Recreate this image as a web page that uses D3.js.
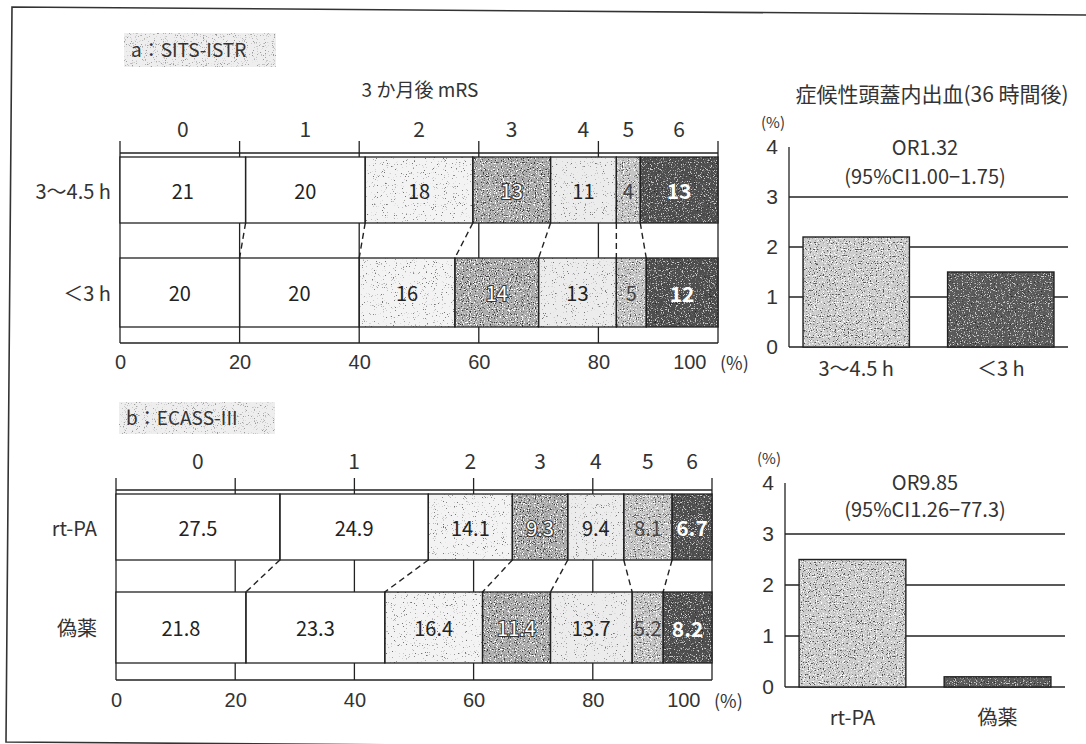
<!DOCTYPE html>
<html>
<head>
<meta charset="utf-8">
<script src="https://cdn.jsdelivr.net/npm/d3@7"></script>
<style>
  body { margin: 0; background: #fff; }
  svg { display: block; font-family: "Noto Sans CJK JP", "Noto Sans", sans-serif; }
</style>
</head>
<body>
<svg id="chart" width="1086" height="744"></svg>
<script>
// ---- data ----
const mrsLevels = ["0", "1", "2", "3", "4", "5", "6"];
const mrsTitle = "3 か月後 mRS";

const sitsGroups = ["3〜4.5 h", "＜3 h"];
const sitsLate = [21, 20, 18, 13, 11, 4, 13];
const sitsEarly = [20, 20, 16, 14, 13, 5, 12];

const ecassGroups = ["rt-PA", "偽薬"];
const ecassRtpa = [27.5, 24.9, 14.1, 9.3, 9.4, 8.1, 6.7];
const ecassPlacebo = [21.8, 23.3, 16.4, 11.4, 13.7, 5.2, 8.2];

const pctTicks = [0, 20, 40, 60, 80, 100];
const sichTicks = [0, 1, 2, 3, 4];
const sichGrid = [0, 1, 2, 3];
const sichTitle = "症候性頭蓋内出血(36 時間後)";
const sitsSich = [2.2, 1.5];
const ecassSich = [2.5, 0.2];
const sitsOR = ["OR1.32", "(95%CI1.00−1.75)"];
const ecassOR = ["OR9.85", "(95%CI1.26−77.3)"];

// ---- shading for the mRS grades ----
const segFill = ["#ffffff", "#ffffff", "#f3f3f3", "#acacac", "#ececec", "#c4c4c4", "#4e4e4e"];
const segGrain = [null, null, "gFaint", "gMid", "gFaint", "gMid5", "gDark"];
const INK = "#222";

const svg = d3.select("#chart");
const defs = svg.append("defs");

// printed-screen speckle: dark and light flecks taken from fractal noise
function grain(id, seed, freq, dark, light) {
  const f = defs.append("filter").attr("id", id)
    .attr("x", 0).attr("y", 0).attr("width", 1).attr("height", 1)
    .attr("color-interpolation-filters", "sRGB");
  f.append("feTurbulence").attr("type", "fractalNoise")
    .attr("baseFrequency", freq).attr("numOctaves", 2).attr("seed", seed).attr("result", "n");
  f.append("feColorMatrix").attr("in", "n").attr("type", "matrix")
    .attr("values", `0 0 0 0 ${dark.c} 0 0 0 0 ${dark.c} 0 0 0 0 ${dark.c} ${dark.k} 0 0 0 ${dark.b}`)
    .attr("result", "d");
  f.append("feComposite").attr("in", "d").attr("in2", "SourceGraphic").attr("operator", "in").attr("result", "dd");
  f.append("feColorMatrix").attr("in", "n").attr("type", "matrix")
    .attr("values", `0 0 0 0 ${light.c} 0 0 0 0 ${light.c} 0 0 0 0 ${light.c} ${-light.k} 0 0 0 ${light.b}`)
    .attr("result", "l");
  f.append("feComposite").attr("in", "l").attr("in2", "SourceGraphic").attr("operator", "in").attr("result", "ll");
  const m = f.append("feMerge");
  m.append("feMergeNode").attr("in", "SourceGraphic");
  m.append("feMergeNode").attr("in", "dd");
  m.append("feMergeNode").attr("in", "ll");
}
grain("gFaint", 7, 0.9, { c: 0.45, k: 9, b: -5.9 }, { c: 1, k: 0, b: 0 });
grain("gMid", 3, 0.85, { c: 0.22, k: 8, b: -4.75 }, { c: 1, k: 8, b: 3.35 });
grain("gMid5", 11, 0.85, { c: 0.32, k: 8, b: -4.8 }, { c: 1, k: 8, b: 3.3 });
grain("gDark", 5, 0.85, { c: 0.15, k: 8, b: -5.3 }, { c: 0.8, k: 8, b: 3.35 });
grain("gBadge", 9, 0.9, { c: 0.6, k: 7, b: -4.3 }, { c: 1, k: 0, b: 0 });

// ---- outer frame (slightly skewed print border) ----
svg.append("path")
  .attr("d", "M1090,15 L12,7 L6,742 L1090,750")
  .attr("fill", "none").attr("stroke", "#333").attr("stroke-width", 1.6);

// ---- stacked mRS distribution panel ----
function drawMrsPanel(p) {
  const x = d3.scaleLinear().domain([0, 100]).range([p.x0, p.x1]);
  const g = svg.append("g");

  // panel heading on a light tinted badge
  g.append("rect").attr("x", p.badge[0]).attr("y", p.badge[1])
    .attr("width", p.badge[2]).attr("height", p.badge[3])
    .attr("fill", "#eeeeee").attr("filter", "url(#gBadge)");
  g.append("text").attr("x", p.badge[0] + 7).attr("y", p.titleY)
    .attr("font-size", 19).attr("fill", "#333").text(p.title);

  if (p.mrsTitleX) {
    g.append("text").attr("x", p.mrsTitleX).attr("y", p.mrsTitleY)
      .attr("text-anchor", "middle").attr("font-size", 19).attr("fill", "#333").text(mrsTitle);
  }

  const cum = p.rows.map(r => {
    let s = 0;
    return r.values.map(v => { const a = s; s += v; return [a, s]; });
  });

  // grade numbers centred over the upper bar's segments
  g.selectAll("text.grade").data(cum[0]).join("text").attr("class", "grade")
    .attr("x", d => x((d[0] + d[1]) / 2)).attr("y", p.gradeY)
    .attr("text-anchor", "middle").attr("dominant-baseline", "central")
    .attr("font-size", 21).attr("fill", "#333")
    .text((d, i) => mrsLevels[i]);

  const frameTop = p.bracketY - 12;
  // reference lines every 20 %, visible in the gaps between bars
  g.selectAll("line.grid").data(pctTicks).join("line").attr("class", "grid")
    .attr("x1", d => x(d)).attr("x2", d => x(d))
    .attr("y1", frameTop).attr("y2", p.axisY)
    .attr("stroke", INK).attr("stroke-width", 1.3);
  g.append("line").attr("x1", x(0)).attr("x2", x(100)).attr("y1", p.bracketY).attr("y2", p.bracketY)
    .attr("stroke", INK).attr("stroke-width", 1.5);
  g.append("line").attr("x1", x(0)).attr("x2", x(100)).attr("y1", p.axisY).attr("y2", p.axisY)
    .attr("stroke", INK).attr("stroke-width", 1.5);

  p.rows.forEach((r, ri) => {
    const seg = cum[ri];
    const rg = g.append("g");
    rg.append("rect").attr("x", x(0)).attr("width", x(100) - x(0))
      .attr("y", r.top).attr("height", r.bottom - r.top).attr("fill", "#fff");
    rg.selectAll("rect.fill").data(seg).join("rect").attr("class", "fill")
      .attr("x", d => x(d[0])).attr("width", d => x(d[1]) - x(d[0]))
      .attr("y", r.top).attr("height", r.bottom - r.top)
      .attr("fill", (d, i) => segFill[i])
      .attr("filter", (d, i) => segGrain[i] ? `url(#${segGrain[i]})` : null);
    rg.selectAll("rect.edge").data(seg).join("rect").attr("class", "edge")
      .attr("x", d => x(d[0])).attr("width", d => x(d[1]) - x(d[0]))
      .attr("y", r.top).attr("height", r.bottom - r.top)
      .attr("fill", "none").attr("stroke", INK).attr("stroke-width", 1.3);
    rg.selectAll("text.val").data(seg).join("text").attr("class", "val")
      .attr("x", d => x((d[0] + d[1]) / 2)).attr("y", (r.top + r.bottom) / 2)
      .attr("text-anchor", "middle").attr("dominant-baseline", "central")
      .attr("font-size", (d, i) => i === 6 ? 21 : 20)
      .attr("font-weight", (d, i) => i === 6 ? "bold" : "normal")
      .attr("fill", (d, i) => i === 6 || i === 3 ? "#fff" : (i === 5 ? "#444" : "#222"))
      .attr("stroke", (d, i) => i === 3 ? "#333" : null)
      .attr("stroke-width", (d, i) => i === 3 ? 2.2 : null)
      .attr("paint-order", "stroke")
      .text((d, i) => r.values[i]);
    rg.append("text").attr("x", p.rowLabelX).attr("y", (r.top + r.bottom) / 2)
      .attr("text-anchor", "end").attr("dominant-baseline", "central")
      .attr("font-size", 20).attr("fill", "#333").text(r.label);
  });

  // dashed links joining matching grade boundaries of the two bars
  const links = d3.range(1, mrsLevels.length).map(k => [cum[0][k - 1][1], cum[1][k - 1][1]]);
  g.selectAll("line.link").data(links).join("line").attr("class", "link")
    .attr("x1", d => x(d[0])).attr("x2", d => x(d[1]))
    .attr("y1", p.rows[0].bottom).attr("y2", p.rows[1].top)
    .attr("stroke", INK).attr("stroke-width", 1.4).attr("stroke-dasharray", "6,4");

  const ax = g.append("g").attr("transform", `translate(0,${p.axisY})`)
    .call(d3.axisBottom(x).tickValues(pctTicks).tickSize(0).tickPadding(p.tickPad));
  ax.select(".domain").remove();
  ax.selectAll("text").attr("font-size", 20).attr("fill", "#333")
    .style("font-family", "inherit");
  ax.selectAll(".tick").filter(d => d === 100).select("text")
    .attr("text-anchor", "end").attr("dx", -12);
  g.append("text").attr("x", x(100) + 2).attr("y", p.axisY + p.tickPad + 15)
    .attr("font-size", 18).attr("fill", "#333").text("(%)");
}

// ---- symptomatic ICH bar panel ----
function drawSichPanel(p) {
  const y = d3.scaleLinear().domain([0, 4]).range([p.y0, p.y4]);
  const xb = d3.scaleBand().domain(p.cats).range([p.axisX, p.rightX])
    .paddingInner(0.264).paddingOuter(0.097);
  const g = svg.append("g");

  if (p.showTitle) {
    g.append("text").attr("x", 932).attr("y", p.titleY).attr("text-anchor", "middle")
      .attr("font-size", 21).attr("fill", "#333").text(sichTitle);
  }
  g.append("text").attr("x", p.axisX - 16).attr("y", p.pctY).attr("text-anchor", "middle")
    .attr("dominant-baseline", "central").attr("font-size", 15).attr("fill", "#333").text("(%)");

  g.selectAll("line.grid").data(sichGrid).join("line").attr("class", "grid")
    .attr("x1", p.axisX).attr("x2", p.rightX)
    .attr("y1", d => y(d)).attr("y2", d => y(d))
    .attr("stroke", INK).attr("stroke-width", 1.3);
  g.append("line").attr("x1", p.axisX).attr("x2", p.axisX)
    .attr("y1", y(0)).attr("y2", y(4)).attr("stroke", INK).attr("stroke-width", 1.3);

  const ax = g.append("g").attr("transform", `translate(${p.axisX},0)`)
    .call(d3.axisLeft(y).tickValues(sichTicks).tickFormat(d3.format("d")).tickSize(0).tickPadding(11));
  ax.select(".domain").remove();
  ax.selectAll("text").attr("font-size", 21).attr("fill", "#333").style("font-family", "inherit");

  const bars = p.cats.map((c, i) => ({ c, v: p.values[i], i }));
  g.selectAll("rect.bar").data(bars).join("rect").attr("class", "bar")
    .attr("x", d => xb(d.c)).attr("width", xb.bandwidth())
    .attr("y", d => y(d.v)).attr("height", d => y(0) - y(d.v))
    .attr("fill", d => d.i === 0 ? "#cdcdcd" : "#5a5a5a")
    .attr("filter", d => d.i === 0 ? "url(#gMid5)" : "url(#gDark)");
  g.selectAll("rect.edge").data(bars).join("rect").attr("class", "edge")
    .attr("x", d => xb(d.c)).attr("width", xb.bandwidth())
    .attr("y", d => y(d.v)).attr("height", d => y(0) - y(d.v))
    .attr("fill", "none").attr("stroke", INK).attr("stroke-width", 1.4);

  g.selectAll("text.cat").data(bars).join("text").attr("class", "cat")
    .attr("x", d => xb(d.c) + xb.bandwidth() / 2).attr("y", p.catY)
    .attr("text-anchor", "middle").attr("font-size", 20).attr("fill", "#333")
    .text(d => d.c);

  g.selectAll("text.or").data(p.or).join("text").attr("class", "or")
    .attr("x", 925).attr("y", (d, i) => p.orY[i])
    .attr("text-anchor", "middle").attr("font-size", 20).attr("fill", "#333")
    .text(d => d);
}

// a: SITS-ISTR
drawMrsPanel({
  title: "a：SITS-ISTR", badge: [124, 33, 152, 34], titleY: 57,
  mrsTitleX: 420, mrsTitleY: 97,
  x0: 120, x1: 718, gradeY: 128, bracketY: 153, axisY: 343, tickPad: 12,
  rowLabelX: 111,
  rows: [
    { label: sitsGroups[0], values: sitsLate, top: 157, bottom: 223 },
    { label: sitsGroups[1], values: sitsEarly, top: 258, bottom: 327 }
  ]
});
drawSichPanel({
  showTitle: true, titleY: 102, pctY: 121,
  axisX: 789, rightX: 1068, y0: 347, y4: 147,
  cats: sitsGroups, values: sitsSich, or: sitsOR, orY: [155, 184], catY: 376
});

// b: ECASS-III
drawMrsPanel({
  title: "b：ECASS-III", badge: [119, 402, 156, 32], titleY: 425,
  x0: 116, x1: 712, gradeY: 460, bracketY: 490, axisY: 680, tickPad: 13,
  rowLabelX: 97,
  rows: [
    { label: ecassGroups[0], values: ecassRtpa, top: 494, bottom: 560 },
    { label: ecassGroups[1], values: ecassPlacebo, top: 592, bottom: 663 }
  ]
});
drawSichPanel({
  showTitle: false, pctY: 457,
  axisX: 785, rightX: 1065, y0: 687, y4: 483,
  cats: ecassGroups, values: ecassSich, or: ecassOR, orY: [490, 517], catY: 725
});
</script>
</body>
</html>
